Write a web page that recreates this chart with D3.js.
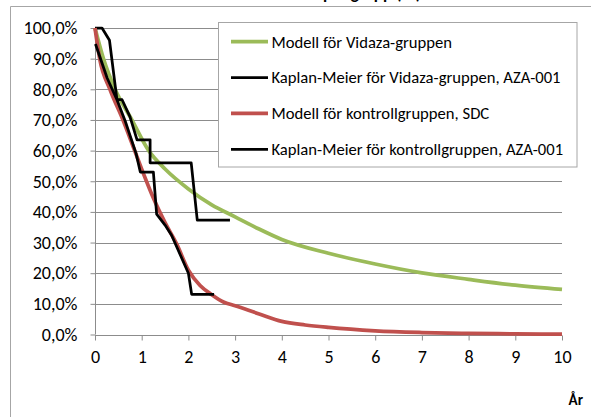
<!DOCTYPE html>
<html><head><meta charset="utf-8">
<script src="https://cdn.jsdelivr.net/npm/d3@7"></script>
<style>
html,body{margin:0;padding:0;background:#fff;overflow:hidden}
svg{display:block}
text{font-family:Carlito,Lato,"Open Sans",sans-serif}
</style></head><body>
<svg id="c" width="591" height="417"></svg>
<script>
// ---- data ----
const xTicks = [0,1,2,3,4,5,6,7,8,9,10];
const yTicks = [0,10,20,30,40,50,60,70,80,90,100];
const seriesNames = [
  "Modell för Vidaza-gruppen",
  "Kaplan-Meier för Vidaza-gruppen, AZA-001",
  "Modell för kontrollgruppen, SDC",
  "Kaplan-Meier för kontrollgruppen, AZA-001"
];
const seriesColors = ["#9bbb59","#000000","#c0504d","#000000"];
const titleText = "Överlevnad per grupp (år)";
const xTitle = "År";

const vidazaModelT = [0,0.18,0.43,0.79,1.15,1.5,2,2.5,3,3.5,4,5,6,7,8,9,10];
const vidazaModelS = [100,90,80,70,60,54,47.5,42.3,38.4,34.5,31,26.5,23,20.1,18,16.1,14.7];

const kmVidazaT = [0,0.15,0.31,0.47,0.58,0.75,0.9,1.18,1.18,2.06,2.19,2.89];
const kmVidazaS = [100,100,96,76.6,76.6,71,63.5,63.5,56,56,37.3,37.3];

const kontrollModelT = [0,0.1,0.32,0.6,0.85,1.05,1.25,1.5,1.75,2,2.25,2.5,2.75,3,3.5,4,4.5,5,6,7,8,9,10];
const kontrollModelS = [100,90,80,70,60,52,44.5,36.5,29.5,21,16,13,10.6,9.4,6.8,4.3,3.1,2.3,1.2,0.65,0.35,0.2,0.1];

const kmKontrollT = [0.01,0.26,0.47,0.65,0.88,0.97,1.25,1.32,1.5,1.64,2.0,2.07,2.55];
const kmKontrollS = [94.8,83.7,76.6,69.5,59,53,53,39.3,35.7,32.4,20,13.1,13.1];

// ---- drawing ----
const svg = d3.select("#c");
const x = d3.scaleLinear().domain([0,10]).range([95,562]);
const y = d3.scaleLinear().domain([0,100]).range([334.5,28]);
const gray = "#8c8c8c";

// outer frame
svg.append("path").attr("d","M10.5,417 V6.5 H591").attr("fill","none").attr("stroke","#a6a6a6").attr("stroke-width",1);

// title (cut off at the top edge, as in the reference)
svg.append("text").attr("x",421).attr("y",-1.5).attr("text-anchor","end")
  .attr("font-weight","bold").attr("font-size",17).attr("fill","#000").text(titleText);

// gridlines
svg.append("g").selectAll("line").data(yTicks.filter(d=>d>0)).join("line")
  .attr("x1",x(0)).attr("x2",x(10)).attr("y1",d=>Math.round(y(d))+0.5).attr("y2",d=>Math.round(y(d))+0.5)
  .attr("stroke",gray).attr("stroke-width",1);

// y axis
const yAxis = svg.append("g").attr("transform",`translate(${x(0)+0.5},0)`)
  .call(d3.axisLeft(y).tickValues(yTicks).tickSize(5).tickPadding(13)
    .tickFormat(d=>d3.format(".1f")(d).replace(".",",")+"%"));
yAxis.select(".domain").attr("stroke",gray).attr("d",`M0,${y(100)}V${y(0)}`);
yAxis.selectAll(".tick line").attr("stroke",gray);
yAxis.selectAll(".tick text").attr("fill","#000").attr("font-size",16);

// x axis
const xAxis = svg.append("g").attr("transform",`translate(0,${Math.round(y(0))+0.5})`)
  .call(d3.axisBottom(x).tickValues(xTicks).tickSize(5).tickPadding(10).tickFormat(d3.format("d")));
xAxis.select(".domain").attr("stroke",gray).attr("d",`M${x(0)},0H${x(10)}`);
xAxis.selectAll(".tick line").attr("stroke",gray);
xAxis.selectAll(".tick text").attr("fill","#000").attr("font-size",16);

// fit tick font to target width
(function(){
  const t = yAxis.selectAll(".tick text").filter(d=>d===100).node();
  const w = t.getComputedTextLength();
  const fs = 16*54/w;
  yAxis.selectAll(".tick text").attr("font-size",fs);
  xAxis.selectAll(".tick text").attr("font-size",fs);
})();

svg.append("text").attr("x",583).attr("y",405).attr("text-anchor","end")
  .attr("font-weight","bold").attr("font-size",15).attr("fill","#000").text(xTitle);

// series
const lineSmooth = d3.line().x(d=>x(d[0])).y(d=>y(d[1])).curve(d3.curveMonotoneX);
const lineStraight = d3.line().x(d=>x(d[0])).y(d=>y(d[1]));
const zip = (a,b)=>a.map((v,i)=>[v,b[i]]);

const series = [
  {pts: zip(vidazaModelT,vidazaModelS), gen: lineSmooth, w: 3.75, c: seriesColors[0]},
  {pts: zip(kmVidazaT,kmVidazaS), gen: lineStraight, w: 2.75, c: seriesColors[1]},
  {pts: zip(kontrollModelT,kontrollModelS), gen: lineSmooth, w: 3.75, c: seriesColors[2]},
  {pts: zip(kmKontrollT,kmKontrollS), gen: lineStraight, w: 2.75, c: seriesColors[3]}
];
svg.append("g").selectAll("path").data(series).join("path")
  .attr("d",d=>d.gen(d.pts)).attr("fill","none").attr("stroke",d=>d.c)
  .attr("stroke-width",d=>d.w).attr("stroke-linejoin","round");

// legend
const lg = svg.append("g");
lg.append("rect").attr("x",218.5).attr("y",22.5).attr("width",358.5).attr("height",144.5)
  .attr("fill","#fff").attr("stroke","#a6a6a6").attr("stroke-width",1);
const rowY = d3.scaleLinear().domain([0,3]).range([41.7,149.3]);
const items = lg.selectAll("g").data(seriesNames).join("g")
  .attr("transform",(d,i)=>`translate(0,${rowY(i)})`);
items.append("line").attr("x1",231).attr("x2",268).attr("y1",0).attr("y2",0)
  .attr("stroke",(d,i)=>seriesColors[i]).attr("stroke-width",(d,i)=>i%2===0?3.75:2.75);
const lt = items.append("text").attr("x",271.5).attr("y",0).attr("dy","0.35em")
  .attr("font-size",16).attr("fill","#000").text(d=>d);
(function(){
  const w = lt.filter((d,i)=>i===3).node().getComputedTextLength();
  lt.attr("font-size",16*292/w);
})();
</script>
</body></html>
